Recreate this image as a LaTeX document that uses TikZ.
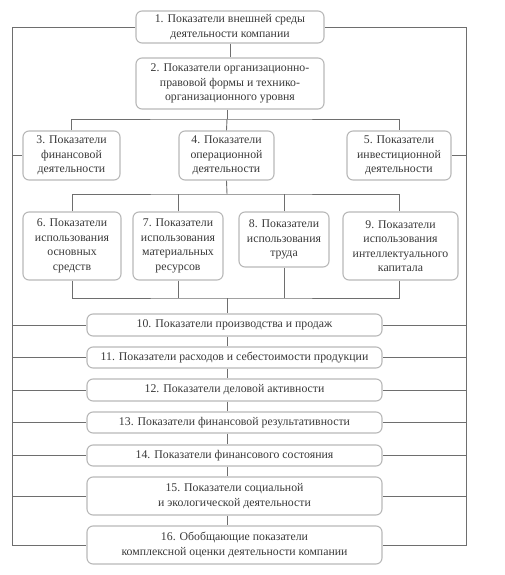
\documentclass[tikz,border=0pt]{standalone}
\usepackage{fontspec}
\setmainfont{Liberation Serif}
\begin{document}
\begin{tikzpicture}[x=1pt,y=-1pt,
  box/.style={draw=boxc, line width=1.1pt, rounded corners=6pt, align=center,
    inner sep=0pt, text=txtc, font=\fontsize{11.8}{14.5}\selectfont},
  wire/.style={draw=linec, line width=0.9pt}]
\definecolor{boxc}{HTML}{B8B8B8}
\definecolor{linec}{HTML}{6E6E6E}
\definecolor{txtc}{HTML}{383838}
\useasboundingbox (0,0) rectangle (504,575);
\coordinate (L) at (12,0);
\coordinate (R) at (466,0);
\coordinate (T) at (227,0);
\node[box, minimum width=188, minimum height=32] (b1) at (230,27) {1. Показатели внешней среды\\деятельности компании};
\node[box, minimum width=188, minimum height=51] (b2) at (230,83.5) {2. Показатели организационно-\\правовой формы и технико-\\организационного уровня};
\node[box, minimum width=97, minimum height=49] (b3) at (71.5,155.5) {3. Показатели\\финансовой\\деятельности};
\node[box, minimum width=95, minimum height=49] (b4) at (226.5,155.5) {4. Показатели\\операционной\\деятельности};
\node[box, minimum width=104, minimum height=49] (b5) at (399,155.5) {5. Показатели\\инвестиционной\\деятельности};
\node[box, minimum width=98, minimum height=68] (b6) at (72,246) {6. Показатели\\использования\\основных\\средств};
\node[box, minimum width=90, minimum height=68] (b7) at (178,246) {7. Показатели\\использования\\материальных\\ресурсов};
\node[box, minimum width=90, minimum height=55] (b8) at (284,239.5) {8. Показатели\\использования\\труда};
\node[box, minimum width=115, minimum height=68] (b9) at (400.5,246) {9. Показатели\\использования\\интеллектуального\\капитала};
\node[box, minimum width=295, minimum height=22] (b10) at (234.5,325) {10. Показатели производства и продаж};
\node[box, minimum width=295, minimum height=21] (b11) at (234.5,357.5) {11. Показатели расходов и себестоимости продукции};
\node[box, minimum width=295, minimum height=22] (b12) at (234.5,390) {12. Показатели деловой активности};
\node[box, minimum width=295, minimum height=21] (b13) at (234.5,422.5) {13. Показатели финансовой результативности};
\node[box, minimum width=295, minimum height=21] (b14) at (234.5,455.5) {14. Показатели финансового состояния};
\node[box, minimum width=295, minimum height=38] (b15) at (234.5,496) {15. Показатели социальной\\и экологической деятельности};
\node[box, minimum width=295, minimum height=38] (b16) at (234.5,545) {16. Обобщающие показатели\\комплексной оценки деятельности компании};
\coordinate (bus1) at (227,119);
\coordinate (bus2) at (227,194);
\coordinate (bus3) at (227,298);
% outer buses
\draw[wire] (b1.west) -| (L |- b16.west) -- (b16.west);
\draw[wire] (b1.east) -| (R |- b16.east) -- (b16.east);
\foreach \n in {b3,b10,b11,b12,b13,b14,b15} \draw[wire] (L |- \n.west) -- (\n.west);
\foreach \n in {b5,b10,b11,b12,b13,b14,b15} \draw[wire] (R |- \n.east) -- (\n.east);
% top
\draw[wire] (b1.south) -- (b2.north);
\draw[wire] (b2.south -| T) -- (bus1);
\draw[wire] (b3.north) |- (bus1) -| (b5.north);
\draw[wire] (bus1) -- (b4.north);
% middle
\draw[wire] (b4.south) -- (bus2);
\draw[wire] (b6.north) |- (bus2) -| (399,0 |- b9.north);
\draw[wire] (b7.north) -- (b7.north |- bus2);
\draw[wire] (b8.north) -- (b8.north |- bus2);
\draw[wire] (b6.south) |- (bus3) -| (399,0 |- b9.south);
\draw[wire] (b7.south) -- (b7.south |- bus3);
\draw[wire] (b8.south) -- (b8.south |- bus3);
\draw[wire] (bus3) -- (T |- b10.north);
% lower chain
\draw[wire] (T |- b10.south) -- (T |- b11.north);
\draw[wire] (T |- b11.south) -- (T |- b12.north);
\draw[wire] (T |- b12.south) -- (T |- b13.north);
\draw[wire] (T |- b13.south) -- (T |- b14.north);
\draw[wire] (T |- b14.south) -- (T |- b15.north);
\draw[wire] (T |- b15.south) -- (T |- b16.north);
\end{tikzpicture}
\end{document}
